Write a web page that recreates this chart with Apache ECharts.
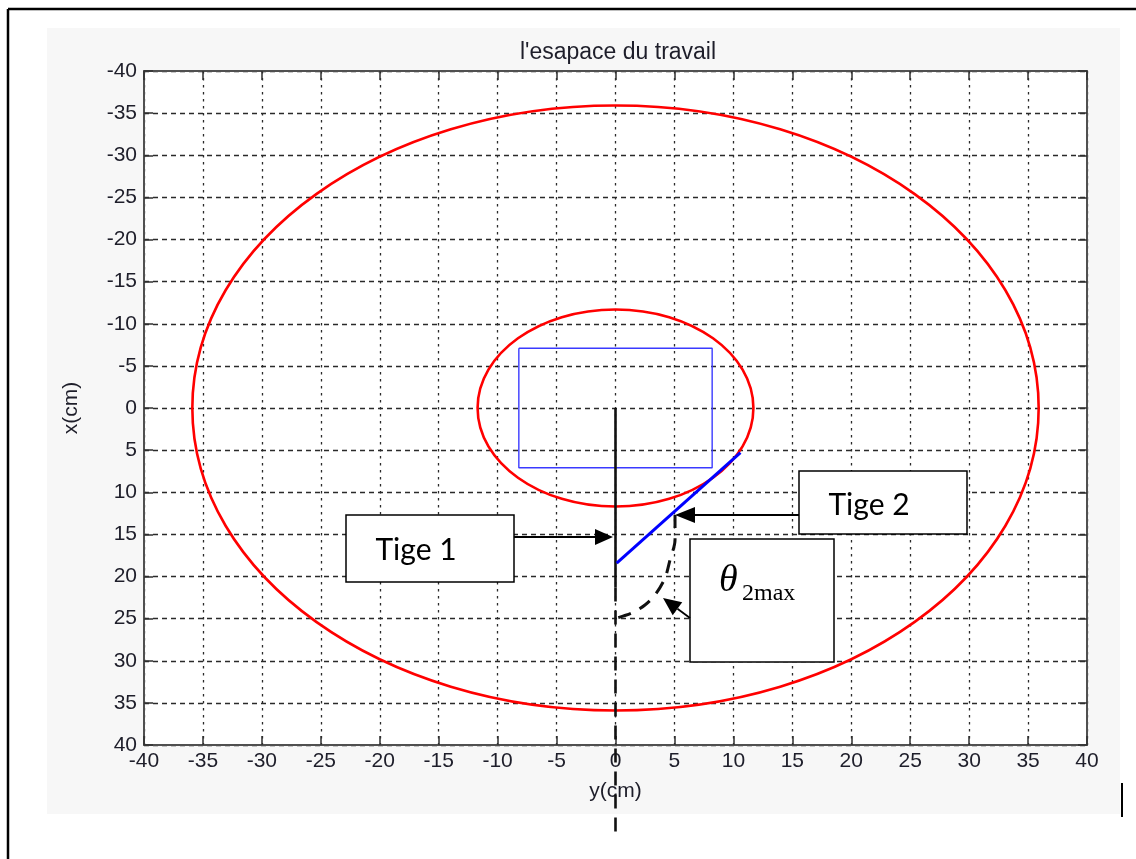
<!DOCTYPE html>
<html>
<head>
<meta charset="utf-8">
<script src="https://cdn.jsdelivr.net/npm/echarts@6/dist/echarts.min.js"></script>
<style>
html,body{margin:0;padding:0;background:#fff;}
#chart{width:1136px;height:859px;}
</style>
</head>
<body>
<div id="chart"></div>
<script>
// ---- data (horizontal = y(cm), vertical = x(cm)) ----
const axisMin = -40;
const axisMax = 40;
const tickStep = 5;

const circleCenterH = [0, 0];
const circleCenterV = [0, 0];
const circleRadius = [35.9, 11.7];

const rectH = [-8.2, 8.2, 8.2, -8.2, -8.2];
const rectV = [-7.1, -7.1, 7.1, 7.1, -7.1];

const tige1H = [0, 0];
const tige1V = [0, 21.3];

const tige1ExtH = [0, 0];
const tige1ExtV = [21.3, 51];

const tige2H = [0.1, 10.6];
const tige2V = [18.4, 5.3];

const arcH = [5.05, 5.05, 4.62, 4.2, 3.35, 2.5, 1.4, 0.13];
const arcV = [12.7, 15.67, 18.04, 20.18, 22.2, 23.38, 24.33, 24.93];

const titleText = "l'esapace du travail";
const xName = 'y(cm)';
const yName = 'x(cm)';

// ---- helpers ----
const zip = (a, b) => a.map((v, i) => [v, b[i]]);
const FONT = 'Liberation Sans, Arial, sans-serif';
const LBL = '#1e1e2a';

const chart = echarts.init(document.getElementById('chart'));

function arrow(x1, y1, x2, y2, len, half) {
  const dx = x2 - x1, dy = y2 - y1;
  const d = Math.sqrt(dx * dx + dy * dy);
  const ux = dx / d, uy = dy / d;
  const bx = x2 - ux * len, by = y2 - uy * len;
  return [
    { type: 'line', z: 100, shape: { x1: x1, y1: y1, x2: bx, y2: by }, style: { stroke: '#000', lineWidth: 1.8 } },
    { type: 'polygon', z: 100, shape: { points: [[x2, y2], [bx - uy * half, by + ux * half], [bx + uy * half, by - ux * half]] }, style: { fill: '#000' } }
  ];
}

const graphics = [
  { type: 'rect', z: -10, silent: true, shape: { x: 47, y: 28, width: 1073, height: 786 }, style: { fill: '#f7f7f7' } },
  { type: 'rect', z: -9, silent: true, shape: { x: 144, y: 71, width: 943, height: 674 }, style: { fill: '#ffffff' } },
  { type: 'line', z: 100, shape: { x1: 8, y1: 9, x2: 1136, y2: 9 }, style: { stroke: '#000', lineWidth: 2.5 } },
  { type: 'line', z: 100, shape: { x1: 8, y1: 9, x2: 8, y2: 859 }, style: { stroke: '#000', lineWidth: 2.5 } },
  { type: 'line', z: 100, shape: { x1: 1122, y1: 783, x2: 1122, y2: 817 }, style: { stroke: '#000', lineWidth: 2 } },

  { type: 'rect', z: 100, shape: { x: 346, y: 515, width: 168, height: 67 }, style: { fill: '#fff', stroke: '#000', lineWidth: 1.5 } },
  { type: 'text', z: 101, style: { x: 416, y: 550, text: 'Tige 1', font: '30px Lato, "Open Sans", sans-serif', fill: '#000', textAlign: 'center', textVerticalAlign: 'middle' } },
  ...arrow(514, 537, 613, 537, 18, 8),

  { type: 'rect', z: 100, shape: { x: 799, y: 471, width: 168, height: 63 }, style: { fill: '#fff', stroke: '#000', lineWidth: 1.5 } },
  { type: 'text', z: 101, style: { x: 869, y: 505, text: 'Tige 2', font: '30px Lato, "Open Sans", sans-serif', fill: '#000', textAlign: 'center', textVerticalAlign: 'middle' } },
  ...arrow(799, 515, 675, 515, 20, 8),

  { type: 'rect', z: 100, shape: { x: 690, y: 539, width: 144, height: 123 }, style: { fill: '#fff', stroke: '#000', lineWidth: 1.5 } },
  { type: 'text', z: 101, style: { x: 719, y: 600, text: 'θ', font: 'italic 38px "Liberation Serif", "DejaVu Serif", serif', fill: '#000', textAlign: 'left', textVerticalAlign: 'bottom' } },
  { type: 'text', z: 101, style: { x: 742, y: 606, text: '2max', font: '24px "Liberation Serif", "DejaVu Serif", serif', fill: '#000', textAlign: 'left', textVerticalAlign: 'bottom' } },
  ...arrow(690, 618, 663, 598, 18, 8)
];

const option = {
  backgroundColor: '#ffffff',
  animation: false,
  title: {
    text: titleText,
    left: 613,
    top: 36,
    textAlign: 'center',
    textStyle: { fontFamily: FONT, fontSize: 23, fontWeight: 'normal', color: LBL }
  },
  grid: { left: 144, right: 49, top: 71, bottom: 114, containLabel: false },
  xAxis: [
    {
      type: 'value', min: axisMin, max: axisMax, interval: tickStep,
      name: xName, nameLocation: 'middle', nameGap: 36,
      nameTextStyle: { fontFamily: FONT, fontSize: 21, color: LBL },
      axisLine: { show: true, onZero: false, lineStyle: { color: '#505050', width: 2 } },
      axisTick: { show: true, inside: true, length: 9, lineStyle: { color: '#303030', width: 1.5 } },
      axisLabel: { fontFamily: FONT, fontSize: 21, color: LBL, margin: 6 },
      splitLine: { show: true, lineStyle: { color: '#2a2a2a', width: 1.3, type: [2.5, 4.5] } }
    },
    {
      type: 'value', min: axisMin, max: axisMax, interval: tickStep, position: 'top',
      axisLine: { show: true, onZero: false, lineStyle: { color: '#505050', width: 2 } },
      axisTick: { show: true, inside: true, length: 9, lineStyle: { color: '#303030', width: 1.5 } },
      axisLabel: { show: false },
      splitLine: { show: false }
    }
  ],
  yAxis: [
    {
      type: 'value', min: axisMin, max: axisMax, interval: tickStep, inverse: true,
      name: yName, nameLocation: 'middle', nameGap: 62,
      nameTextStyle: { fontFamily: FONT, fontSize: 21, color: LBL },
      axisLine: { show: true, onZero: false, lineStyle: { color: '#505050', width: 2 } },
      axisTick: { show: true, inside: true, length: 9, lineStyle: { color: '#303030', width: 1.5 } },
      axisLabel: { fontFamily: FONT, fontSize: 21, color: LBL, margin: 7 },
      splitLine: { show: true, lineStyle: { color: '#2a2a2a', width: 1.3, type: [5, 4] } }
    },
    {
      type: 'value', min: axisMin, max: axisMax, interval: tickStep, inverse: true, position: 'right',
      axisLine: { show: true, onZero: false, lineStyle: { color: '#505050', width: 2 } },
      axisTick: { show: true, inside: true, length: 9, lineStyle: { color: '#303030', width: 1.5 } },
      axisLabel: { show: false },
      splitLine: { show: false }
    }
  ],
  series: [
    {
      type: 'custom',
      xAxisIndex: 0, yAxisIndex: 0,
      data: circleRadius.map((r, i) => [circleCenterH[i], circleCenterV[i], r]),
      renderItem: function (params, api) {
        const h = api.value(0), v = api.value(1), r = api.value(2);
        const c = api.coord([h, v]);
        const rx = Math.abs(api.coord([h + r, v])[0] - c[0]);
        const ry = Math.abs(api.coord([h, v + r])[1] - c[1]);
        return {
          type: 'ellipse',
          shape: { cx: c[0], cy: c[1], rx: rx, ry: ry },
          style: { fill: 'none', stroke: '#ff0000', lineWidth: 2.6 }
        };
      },
      z: 3
    },
    {
      type: 'line', data: zip(rectH, rectV), showSymbol: false, symbol: 'none',
      lineStyle: { color: '#3a3aff', width: 1.4 }, z: 4
    },
    {
      type: 'line', data: zip(tige1H, tige1V), symbol: 'none',
      lineStyle: { color: '#111', width: 2.6 }, z: 5
    },
    {
      type: 'line', data: zip(tige1ExtH, tige1ExtV), symbol: 'none', clip: false,
      lineStyle: { color: '#111', width: 2.6, type: [14, 9] }, z: 5
    },
    {
      type: 'line', data: zip(tige2H, tige2V), symbol: 'none',
      lineStyle: { color: '#0000ff', width: 3 }, z: 6
    },
    {
      type: 'line', data: zip(arcH, arcV), symbol: 'none', smooth: 0.3,
      lineStyle: { color: '#111', width: 3, type: [13, 10] }, z: 5
    }
  ],
  graphic: graphics
};

chart.setOption(option);
</script>
</body>
</html>
